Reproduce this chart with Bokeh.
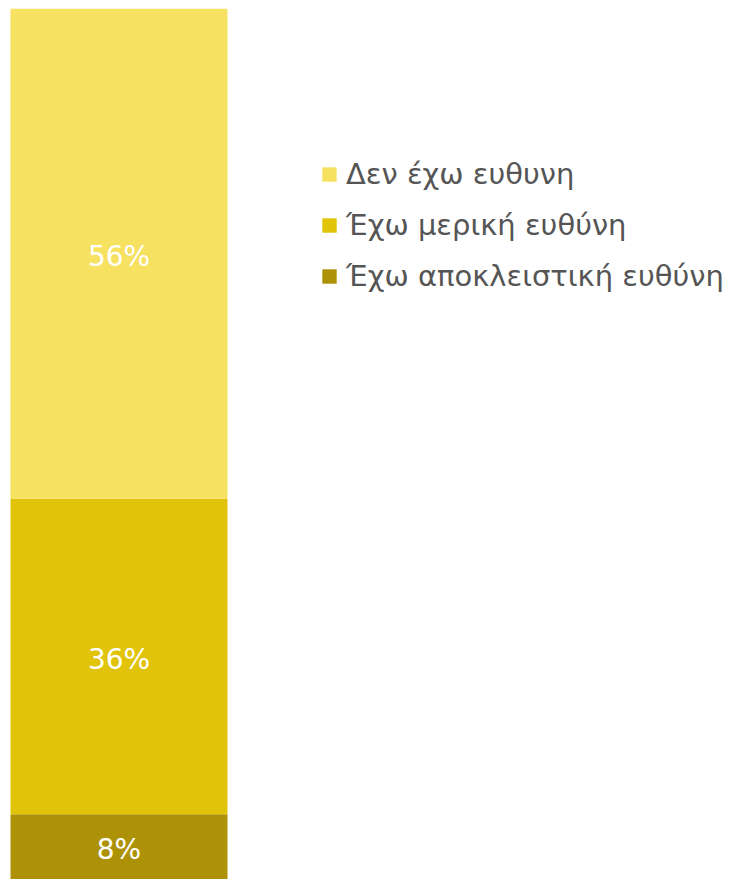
from bokeh.plotting import figure
from bokeh.models import Range1d, Legend, LegendItem, ColumnDataSource
from bokeh.embed import file_html
from bokeh.resources import INLINE
from bokeh.core.properties import value

# data (bottom to top of the stack)
categories = ["Έχω αποκλειστική ευθύνη", "Έχω μερική ευθύνη", "Δεν έχω ευθυνη"]
shares = [7.5, 36.2, 56.3]
colors = ["#AD9207", "#E1C30A", "#F7E160"]
labels = ["8%", "36%", "56%"]

W, H = 729, 879
LB, TB = 8, 8
p = figure(width=W, height=H, output_backend="svg", toolbar_location=None,
           min_border_left=LB, min_border_right=0, min_border_top=TB, min_border_bottom=0,
           x_range=Range1d(-2 / 217, (W - LB - 2) / 217), y_range=Range1d(0, 100))
p.axis.visible = False
p.grid.visible = False
p.outline_line_color = None
p.background_fill_color = "white"
p.border_fill_color = "white"

bottoms, tops, mids = [], [], []
acc = 0
for s in shares:
    bottoms.append(acc)
    tops.append(acc + s)
    mids.append(acc + s / 2)
    acc += s

src = ColumnDataSource(dict(x=[0.5] * 3, bottom=bottoms, top=tops, mid=mids,
                            color=colors, label=labels, cat=categories))
renderers = []
for i in range(3):
    r = p.vbar(x=0.5, width=1, bottom=bottoms[i], top=tops[i], fill_color=colors[i], line_color=None)
    renderers.append(r)

p.text(x="x", y="mid", text="label", source=src, text_color="white",
       text_font=value("DejaVu Sans"), text_font_size="28px",
       text_align="center", text_baseline="middle", y_offset=3)

items = [LegendItem(label=categories[i], renderers=[renderers[i]]) for i in [2, 1, 0]]
legend = Legend(items=items, location=(312, 578), orientation="vertical",
                glyph_width=18, glyph_height=18, label_standoff=8,
                label_height=51, spacing=0, padding=0, margin=0,
                label_text_font="DejaVu Sans", label_text_font_size="29px",
                label_text_color="#555555",
                border_line_alpha=0, background_fill_alpha=0)
p.add_layout(legend)

open("out.html", "w").write(file_html(p, INLINE))
